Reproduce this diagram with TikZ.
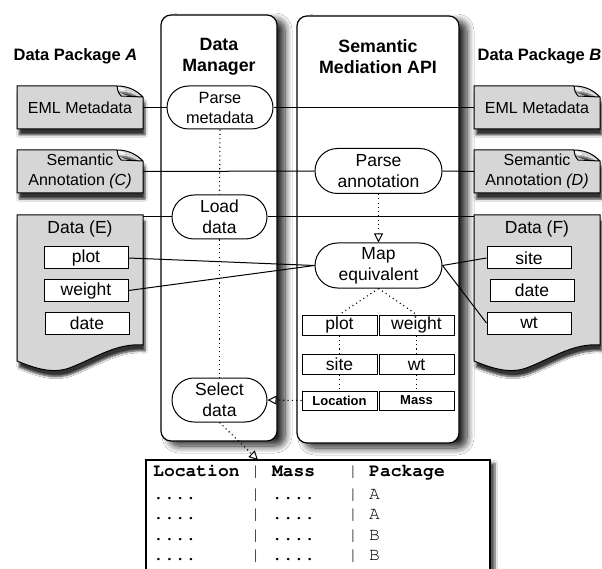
\documentclass[tikz,border=0pt]{standalone}
\usepackage[T1,TU]{fontenc}
\usepackage{fontspec}
\setmainfont{Liberation Sans}
\setmonofont{Liberation Mono}
\usetikzlibrary{arrows.meta,shapes.misc,shadows.blur}

\begin{document}
\begin{tikzpicture}[x=1pt,y=-1pt,
  pane/.style={draw,line width=1.2pt,rounded corners=10pt,fill=white,
    blur shadow={shadow xshift=8pt,shadow yshift=-5pt,shadow blur steps=10,shadow blur radius=7pt,shadow opacity=85}},
  docbox/.style={draw,line width=1pt,fill=black!16,
    blur shadow={shadow xshift=2pt,shadow yshift=-6pt,shadow blur steps=6,shadow opacity=80}},
  tabbox/.style={draw,line width=1.2pt,fill=white,
    blur shadow={shadow xshift=5pt,shadow yshift=-3pt,shadow blur steps=8,shadow opacity=65}},
  doclab/.style={minimum width=126pt,inner sep=0pt,align=center,font=\fontsize{16}{20}\selectfont},
  pill/.style={draw,rounded rectangle,fill=white,line width=1pt,inner sep=0pt,align=center,
    font=\fontsize{17.5}{21}\selectfont},
  fld/.style={draw,fill=white,line width=1pt,inner sep=0pt,minimum width=84pt,minimum height=22pt,
    font=\fontsize{17.5}{21}\selectfont},
  col/.style={fld,minimum width=75pt,minimum height=20pt},
  colb/.style={col,minimum height=19pt,font=\bfseries\fontsize{13}{15}\selectfont},
  ttl/.style={align=center,font=\bfseries\fontsize{17.8}{21}\selectfont},
  pkg/.style={font=\bfseries\fontsize{16.5}{20}\selectfont},
  link/.style={line width=1pt},
  dots/.style={line width=1.1pt,dash pattern=on 1.1pt off 3.2pt},
  flow/.style={dots,-{Triangle[open,length=9pt,width=9pt,line width=1pt]}}]
  \fill[white] (0,0) rectangle (602,569);
  \useasboundingbox (0,0) rectangle (602,569);

  \node[pane,minimum width=116pt,minimum height=426pt] (dm) at (219,228) {};
  \node[pane,minimum width=162pt,minimum height=427pt] (sm) at (378,229.5) {};
  \node[ttl] (dmttl) at (219,57) {Data\\Manager};
  \node[ttl] (smttl) at (378,57) {Semantic\\Mediation API};
  \node[pkg] (pkgA) at (75.5,56) {Data Package \textit{A}};
  \node[pkg] (pkgB) at (539.5,56) {Data Package \textit{B}};

  \foreach \x in {17,474} {
    \foreach \y in {86,150}
      \draw[docbox] (\x,\y+43) -- (\x,\y) -- (\x+100,\y)
        .. controls (\x+112,\y) and (\x+120,\y+5) .. (\x+126,\y+11) -- (\x+126,\y+43) -- cycle
        (\x+100,\y) .. controls (\x+101,\y+6) .. (\x+104,\y+10) -- (\x+126,\y+11);
    \draw[docbox] (\x,215) -- (\x+126,215) -- (\x+126,345)
      .. controls (\x+100,343) and (\x+80,357) .. (\x+55,367)
      .. controls (\x+38,374) and (\x+22,370) .. (\x,361) -- cycle;
  }
  \draw[tabbox] (146,585) |- (490,460) -- (490,585);

  \node[doclab,minimum height=43pt] (emlA) at (80,107.5) {EML Metadata};
  \node[doclab,minimum height=43pt] (annC) at (80,171.5) {Semantic\\Annotation \textit{(C)}};
  \node[doclab,minimum height=130pt,
    label={[anchor=north,yshift=-2pt,font=\fontsize{17.5}{21}\selectfont]north:Data (E)}] (dataE) at (80,280) {};
  \node[doclab,minimum height=43pt] (emlB) at (537,107.5) {EML Metadata};
  \node[doclab,minimum height=43pt] (annD) at (537,171.5) {Semantic\\Annotation \textit{(D)}};
  \node[doclab,minimum height=130pt,
    label={[anchor=north,yshift=-2pt,font=\fontsize{17.5}{21}\selectfont]north:Data (F)}] (dataF) at (537,280) {};

  \node[fld] (plotE) at (86,258) {plot};
  \node[fld] (weightE) at (86,290.5) {weight};
  \node[fld] (dateE) at (87,323) {date};
  \node[fld] (siteF) at (529,258) {site};
  \node[fld] (dateF) at (532,290.5) {date};
  \node[fld] (wtF) at (529,323) {wt};

  \node[pill,minimum width=106pt,minimum height=43pt,font=\fontsize{16.3}{20}\selectfont] (pm) at (220,107.5) {Parse\\metadata};
  \node[pill,minimum width=95pt,minimum height=44pt] (ld) at (219.5,217) {Load\\data};
  \node[pill,minimum width=95pt,minimum height=44pt] (sel) at (219.5,400) {Select\\data};
  \node[pill,minimum width=127pt,minimum height=45pt] (pa) at (378.5,171) {Parse\\annotation};
  \node[pill,minimum width=127pt,minimum height=45pt] (me) at (378.5,265.5) {Map\\equivalent};

  \node[col] (mplot) at (339.5,325) {plot};
  \node[col] (mweight) at (416.5,325) {weight};
  \node[col] (msite) at (339.5,364.5) {site};
  \node[col] (mwt) at (416.5,364.5) {wt};
  \node[colb] (mloc) at (339.5,400.5) {Location};
  \node[colb] (mmass) at (416.5,400.5) {Mass};

  \node[anchor=north west,inner sep=0pt,font=\fontencoding{T1}\fontfamily{pcr}\fontsize{18}{20.5}\selectfont] (tbl) at (153,462)
    {\begin{tabular}{@{}p{97.2pt}@{}p{21.6pt}@{}p{75.6pt}@{}p{21.6pt}@{}l@{}}
      \textbf{Location} & | & \textbf{Mass} & | & \textbf{Package}\\[2pt]
      .... & | & .... & | & A\\
      .... & | & .... & | & A\\
      .... & | & .... & | & B\\
      .... & | & .... & | & B
    \end{tabular}};
  \coordinate (tabtop) at (258,460);

  \draw[link] (emlA.east) -- (pm.west);
  \draw[link] (pm.east) -- (emlB.west);
  \draw[link] (annC.east) -- (pa.west);
  \draw[link] (pa.east) -- (annD.west);
  \draw[link] (ld.west) -- (ld.west -| dataE.east);
  \draw[link] (ld.east) -- (ld.east -| dataF.west);
  \draw[link] (plotE.east) -- (me.west);
  \draw[link] (weightE.east) -- (me.west);
  \draw[link] (me.east) -- (siteF.west);
  \draw[link] (me.east) -- (wtF.west);

  \draw[dots] (pm.south) -- (ld.north);
  \draw[dots] (ld.south) -- (sel.north);
  \draw[flow] (pa.south) -- (me.north);
  \draw[dots] (me.south) -- (mplot.north);
  \draw[dots] (me.south) -- (mweight.north);
  \foreach \a/\b in {mplot/msite,msite/mloc,mweight/mwt,mwt/mmass}
    \draw[dots] (\a) -- (\b);
  \draw[flow] (mloc.west) -- (sel.east);
  \draw[flow] (sel.south) -- (tabtop);
\end{tikzpicture}
\end{document}
